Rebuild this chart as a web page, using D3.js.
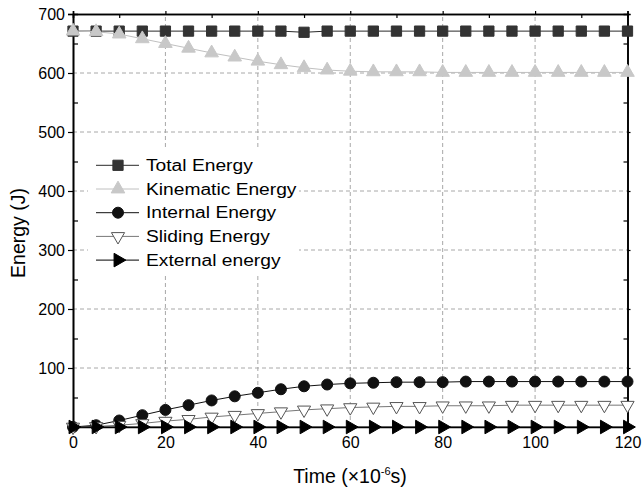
<!DOCTYPE html>
<html><head><meta charset="utf-8">
<script src="https://cdn.jsdelivr.net/npm/d3@7"></script>
<style>
body{margin:0;background:#fff}
svg text{font-family:Arial,"Liberation Sans",Helvetica,sans-serif;fill:#000}
</style>
</head><body>
<svg id="chart" width="644" height="493"></svg>
<script>
// ---- data ----
const time = [0,5,10,15,20,25,30,35,40,45,50,55,60,65,70,75,80,85,90,95,100,105,110,115,120];
const totalEnergy     = [671,671,671,671,671,671,671,671,671,671,669,671,671,671,671,671,671,671,671,671,671,671,671,671,671];
const kinematicEnergy = [671,670,666,658,650,642,634,627,620,614,609,605,603,602,602,602,601,601,601,601,601,601,601,601,601];
const internalEnergy  = [0,3,11,20,29,37,45,52,58,64,69,72,74,75,76,76,76,77,77,77,77,77,77,77,77];
const slidingEnergy   = [0,1,3,6,10,13,17,20,23,26,29,31,33,34,35,35,36,36,36,37,37,37,37,37,37];
const externalEnergy  = [0,0,0,0,0,0,0,0,0,0,0,0,0,0,0,0,0,0,0,0,0,0,0,0,0];
const seriesNames = ["Total Energy","Kinematic Energy","Internal Energy","Sliding Energy","External energy"];
const xTickLabels = [0,20,40,60,80,100,120];
const yTickLabels = [100,200,300,400,500,600,700];

// ---- layout / style ----
const svg = d3.select("#chart");
const x = d3.scaleLinear().domain([0,120]).range([73,627.5]);
const y = d3.scaleLinear().domain([0,700]).range([427,14]);

const styles = [
  {shape:d3.symbolSquare,   size:105, rot:0,   fill:"#333333", stroke:"#333333", line:"#2a2a2a"},
  {shape:d3.symbolTriangle, size:80,  rot:0,   fill:"#c8c8c8", stroke:"#c8c8c8", line:"#c0c0c0"},
  {shape:d3.symbolCircle,   size:95,  rot:0,   fill:"#111111", stroke:"#111111", line:"#111111"},
  {shape:d3.symbolTriangle, size:75,  rot:180, fill:"#ffffff", stroke:"#555555", line:"#777777"},
  {shape:d3.symbolTriangle, size:80,  rot:90,  fill:"#000000", stroke:"#000000", line:"#000000"}
];
const allSeries = [totalEnergy,kinematicEnergy,internalEnergy,slidingEnergy,externalEnergy];

// grid
const grid = svg.append("g").attr("stroke","#a8a8a8").attr("stroke-dasharray","4,3").attr("stroke-width",1);
[20,40,60,80,100].forEach(v=>grid.append("line").attr("x1",x(v)).attr("x2",x(v)).attr("y1",y(0)).attr("y2",y(700)));
[100,200,300,400,500,600].forEach(v=>grid.append("line").attr("x1",x(0)).attr("x2",x(120)).attr("y1",y(v)).attr("y2",y(v)));

// legend background (covers grid)
svg.append("rect").attr("x",88).attr("y",150).attr("width",211).attr("height",123).attr("fill","#fff");

// axes
const fs = "16px";
const left = svg.append("g").attr("transform",`translate(${x(0)},0)`)
  .call(d3.axisLeft(y).tickValues(yTickLabels).tickSize(5).tickPadding(3).tickFormat(d3.format("d")));
left.selectAll("text").style("font-size",fs);
svg.append("g").attr("transform",`translate(${x(0)},0)`)
  .call(d3.axisLeft(y).tickValues([50,150,250,350,450,550,650]).tickSize(-5).tickFormat(""));
svg.append("g").attr("transform",`translate(${x(120)},0)`)
  .call(d3.axisRight(y).tickValues(yTickLabels).tickSize(3).tickFormat(""));
svg.append("g").attr("transform",`translate(${x(120)},0)`)
  .call(d3.axisRight(y).tickValues([50,150,250,350,450,550,650]).tickSize(-4).tickFormat(""));
const bottom = svg.append("g").attr("transform",`translate(0,${y(0)})`)
  .call(d3.axisBottom(x).tickValues(xTickLabels).tickSize(0).tickPadding(10).tickFormat(d3.format("d")));
bottom.selectAll("text").style("font-size",fs);
svg.append("g").attr("transform",`translate(0,${y(700)})`)
  .call(d3.axisTop(x).tickValues(xTickLabels).tickSize(3).tickFormat(""));
svg.append("g").attr("transform",`translate(0,${y(700)})`)
  .call(d3.axisTop(x).tickValues([10,30,50,70,90,110]).tickSize(-4).tickFormat(""));
svg.selectAll(".domain").attr("stroke","#000").attr("stroke-width",1.6);
svg.selectAll(".tick line").attr("stroke","#000").attr("stroke-width",1.2);

// series
const line = d3.line().x((d,i)=>x(time[i])).y(d=>y(d));
allSeries.forEach((vals,k)=>{
  const st = styles[k];
  svg.append("path").datum(vals).attr("d",line).attr("fill","none").attr("stroke",st.line).attr("stroke-width",1);
  svg.append("g").selectAll("path").data(vals).join("path")
    .attr("transform",(d,i)=>`translate(${x(time[i])},${y(d)}) rotate(${st.rot})`)
    .attr("d",d3.symbol().type(st.shape).size(st.size))
    .attr("fill",st.fill).attr("stroke",st.stroke).attr("stroke-width",1);
});

// legend
const lg = svg.append("g");
seriesNames.forEach((name,k)=>{
  const st = styles[k];
  const cy = 165.3 + k*23.7;
  lg.append("line").attr("x1",96).attr("x2",139).attr("y1",cy).attr("y2",cy).attr("stroke",st.line).attr("stroke-width",1);
  lg.append("path").attr("transform",`translate(118,${cy}) rotate(${st.rot})`)
    .attr("d",d3.symbol().type(st.shape).size(st.size))
    .attr("fill",st.fill).attr("stroke",st.stroke).attr("stroke-width",1);
  const t = lg.append("text").attr("x",146).attr("y",cy).attr("dy","0.36em").style("font-size",fs).text(name);
  const w = t.node().getComputedTextLength();
  t.attr("textLength",w*1.2).attr("lengthAdjust","spacingAndGlyphs");
});

// axis titles
svg.append("text").attr("transform","translate(25,233) rotate(-90)").attr("text-anchor","middle")
  .style("font-size","19.5px").text("Energy (J)");
const xt = svg.append("text").attr("x",350).attr("y",483).attr("text-anchor","middle").style("font-size","19.5px");
xt.append("tspan").text("Time (\u00d710");
xt.append("tspan").attr("dy","-8").style("font-size","11px").text("-6");
xt.append("tspan").attr("dy","8").text("s)");
</script>
</body></html>
